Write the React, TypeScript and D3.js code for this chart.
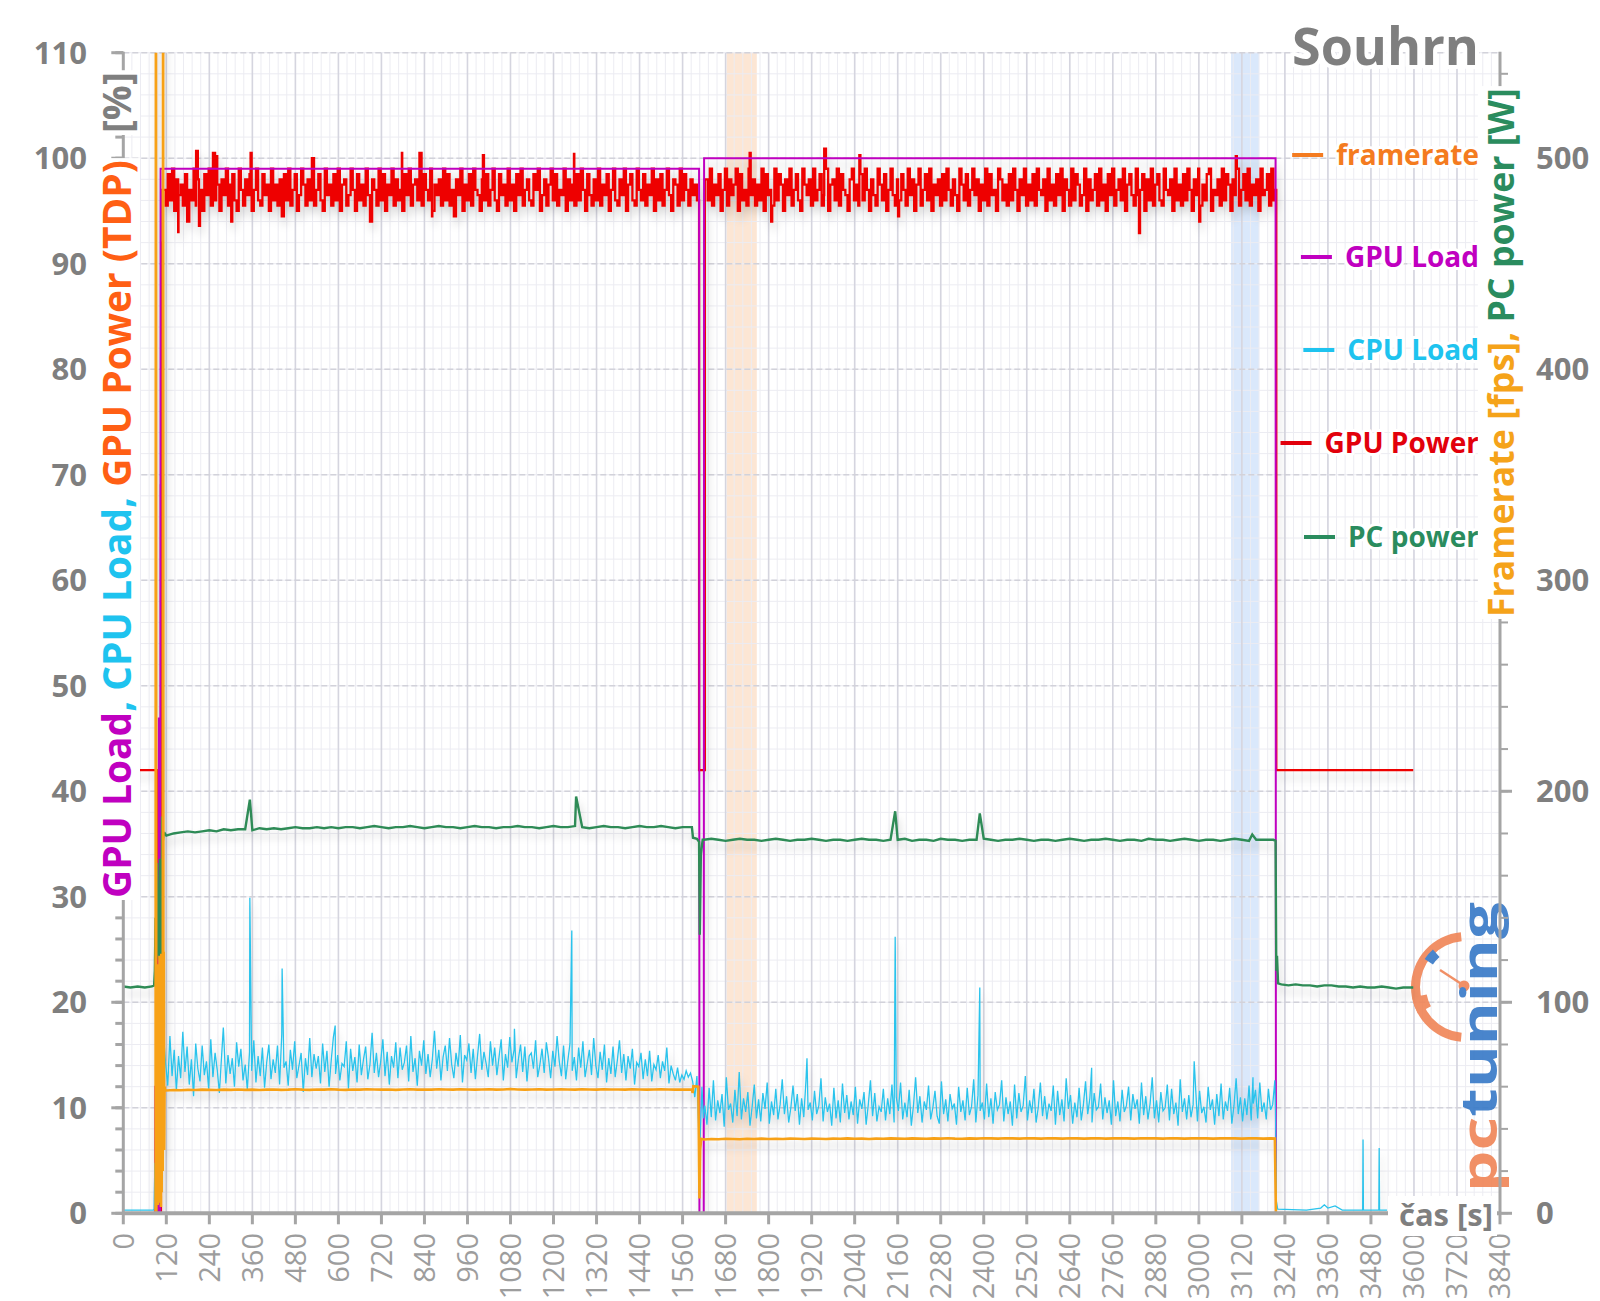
import React, { useEffect, useRef } from "react";
import * as d3 from "d3";

// axis ticks
const leftTicks = [0, 10, 20, 30, 40, 50, 60, 70, 80, 90, 100, 110];
const rightTicks = [0, 100, 200, 300, 400, 500];
const timeTicks = [0, 120, 240, 360, 480, 600, 720, 840, 960, 1080, 1200, 1320, 1440, 1560, 1680, 1800, 1920, 2040, 2160, 2280, 2400, 2520, 2640, 2760, 2880, 3000, 3120, 3240, 3360, 3480, 3600, 3720, 3840];

// highlighted time windows [s]
const bands = [
  { from: 1683, to: 1767, color: "#fbe2cc" },
  { from: 3090, to: 3168, color: "#d3e4fa" },
];

// GPU Load [%]
const gpuLoad = [[0, 0], [88, 0], [89, 12], [91, 12], [92, 0], [98, 0], [99, 47], [100, 0], [103, 0], [104, 99], [1606, 99], [1607, 0], [1619, 0], [1620, 100], [3214, 100], [3215, 0], [3527, 0]];

// GPU Power [% TDP]
const gpuPowerHead = [[0, 42], [94, 42], [95, 0], [100, 0], [101, 7], [103, 0], [105, 69], [107, 92], [109, 97]];
const gpuPowerSeg1 = [
  97, 95.5, 98.5, 96, 99, 95, 98, 96.5, 97.5, 95.5,
  98.5, 94, 97, 96, 99, 95.5, 98, 97, 95, 98.5,
  96.5, 99, 95.5, 100.5, 96, 97.5, 95, 98, 96.5, 99,
  95.5, 97.5, 98.5, 96, 95, 99, 97, 95.5, 98, 96.5,
  98.5, 95, 97, 99, 96, 95.5, 98.5, 96.5, 97.5, 95,
  99, 96, 97.5, 95.5, 98, 94.5, 98.5, 96, 99, 95.5,
  97, 98.5, 95, 96.5, 99, 97.5, 95.5, 98, 96, 100,
  95.5, 97, 98.5, 96, 95, 99, 96.5, 97.5, 95.5, 98.5,
  96, 99, 95, 97.5, 98, 95.5, 96.5, 99, 97, 95,
  98.5, 96, 97.5, 95.5, 99, 96.5, 94, 98, 97, 95.5,
  99, 96, 98.5, 95, 97.5, 96.5, 99, 95.5, 98, 96,
  97, 95, 98.5, 96.5, 99, 95.5, 97.5, 98, 96, 100.5,
  95.5, 98.5, 97, 96, 99, 95, 97.5, 96.5, 98, 95.5,
  99, 96, 98.5, 95.5, 97, 94.5, 98, 96.5, 99, 95,
  97.5, 96, 98.5, 95.5, 99, 97, 96.5, 95, 98, 96,
  98.5, 95.5, 97, 99, 96, 95, 98.5, 96.5, 97.5, 95.5,
  99, 96, 97.5, 95, 98.5, 96.5, 99, 95.5, 97, 98,
  96, 95.5, 98.5, 97, 99, 95, 96.5, 98, 95.5, 97.5,
  99, 96, 98.5, 95.5, 97, 96.5, 99, 95, 98, 96,
  97.5, 95.5, 98.5, 96, 99, 97, 95, 98.5, 96.5, 95.5,
  98, 96, 99, 95.5, 97.5, 96.5, 98.5, 95, 97, 99,
  96, 95.5, 98, 96.5, 99, 95, 97.5, 98.5, 96, 95.5,
  99, 97, 96, 98.5, 95.5, 97.5, 96.5, 99, 95, 98,
  96, 98.5, 95.5, 97, 99, 96.5, 95, 98, 97.5, 95.5,
  99, 96, 98.5, 97, 95.5, 98, 96.5, 97.5, 96,
];
const gpuPowerGap = [[1604, 96], [1606, 42], [1620, 42], [1622, 98]];
const gpuPowerSeg2 = [
  98, 96, 99, 95.5, 97.5, 96.5, 98.5, 95, 97, 99,
  95.5, 98, 96.5, 97.5, 99, 95, 98.5, 96, 97, 95.5,
  99, 96.5, 98, 95.5, 97.5, 96, 99, 95, 98.5, 96.5,
  97, 95.5, 99, 96, 98.5, 97.5, 95, 98, 96.5, 99,
  95.5, 97, 98.5, 96, 95, 99, 97.5, 96.5, 98, 95.5,
  99, 96, 97, 98.5, 95.5, 96.5, 99, 95, 97.5, 98,
  96, 99, 95.5, 98.5, 97, 96.5, 95, 98, 99, 96,
  97.5, 95.5, 98.5, 96, 99, 97, 95, 98, 96.5, 95.5,
  99, 97.5, 96, 98.5, 95, 97, 99, 96.5, 95.5, 98,
  96, 98.5, 97, 95.5, 99, 96.5, 98, 95, 97.5, 99,
  95.5, 97, 98.5, 96, 99, 95, 97.5, 96.5, 98, 95.5,
  98.5, 96, 99, 97, 95.5, 98, 96.5, 95, 99, 97.5,
  96, 98.5, 95.5, 97, 99, 96.5, 98, 95, 97.5, 96,
  99, 95.5, 98.5, 96.5, 97, 95, 99, 98, 96, 97.5,
  95.5, 98.5, 96, 99, 97, 95, 98, 96.5, 99, 95.5,
  97.5, 96, 98.5, 95.5, 99, 97, 96.5, 98, 95, 99,
  96, 97.5, 95.5, 98.5, 96.5, 99, 95, 98, 97, 95.5,
  99, 96, 98.5, 97.5, 95.5, 96.5, 99, 95, 98, 96,
  97, 98.5, 95.5, 99, 96, 97.5, 95, 98.5, 96.5, 99,
  95.5, 97, 98, 96, 99, 95, 97.5, 98.5, 96.5, 95.5,
  99, 96.5, 97, 98.5, 95, 98, 96, 99, 95.5, 97.5,
  98.5, 96, 95.5, 99, 97, 96.5, 98, 95, 99, 96,
  97.5, 95.5, 98.5, 96, 99, 97, 95, 98, 96.5, 99,
  95.5, 97.5, 96, 98.5, 99, 95, 97, 96.5, 98, 95.5,
  99, 96, 98.5, 97.5, 95, 98, 96.5, 99, 95.5, 97,
  98.5, 96, 99, 95.5, 97.5, 96.5, 98, 95, 99, 96.5,
  97, 98.5, 95.5, 99, 96,
];
const gpuPowerSpikes = [[153, 93], [203, 100.7], [211, 93.6], [259, 100.2], [301, 94], [355, 100.5], [777, 100.5], [861, 94.5], [1003, 100.3], [1257, 100.4], [1747, 100.5], [1807, 94], [1955, 100.9], [2053, 100.3], [2161, 94.5], [2833, 92.9], [3001, 94], [3103, 100.2]];
const gpuPowerTail = [[3212, 97], [3214, 97], [3216, 42], [3598, 42]];

// CPU Load [%]
const cpuLoadHead = [[0, 0.3], [84, 0.3], [86, 0.4], [88, 4.8], [89, 0.5], [92, 1], [94, 22.5], [95, 3], [98, 5], [102, 12], [106, 14.5], [110, 11.5], [114, 16]];
const cpuLoadSeg1 = [
  14.2, 12.1, 16.8, 13.0, 15.5, 11.6, 14.9, 12.8, 17.2, 13.4,
  15.8, 12.2, 14.6, 11.1, 16.1, 13.7, 12.5, 15.9, 13.1, 14.4,
  11.8, 16.5, 12.9, 15.2, 13.6, 11.4, 14.8, 16.9, 12.3, 15.0,
  13.2, 14.7, 12.0, 16.2, 13.9, 15.6, 12.6, 14.1, 11.7, 15.3,
  13.5, 16.4, 12.4, 14.9, 13.0, 15.7, 11.9, 14.3, 16.0, 12.7,
  14.6, 13.3, 15.9, 12.2, 17.0, 13.8, 14.4, 12.1, 15.5, 13.6,
  16.3, 12.8, 14.0, 15.2, 11.5, 14.7, 13.1, 16.6, 12.9, 15.1,
  13.7, 14.9, 12.3, 16.1, 13.4, 15.4, 12.0, 14.5, 16.7, 13.2,
  15.0, 12.6, 14.2, 13.9, 16.3, 11.8, 15.6, 13.5, 14.8, 12.4,
  16.0, 13.1, 14.6, 15.8, 12.7, 14.1, 17.1, 13.3, 15.2, 12.9,
  14.4, 16.5, 13.0, 15.3, 12.2, 14.9, 13.8, 16.2, 12.8, 15.7,
  13.6, 14.3, 15.9, 12.5, 16.8, 13.4, 14.7, 12.1, 15.4, 14.0,
  16.4, 13.2, 15.1, 12.9, 14.6, 17.3, 13.7, 15.5, 12.6, 14.8,
  15.9, 13.5, 16.6, 14.1, 12.8, 15.2, 13.9, 16.9, 12.4, 15.0,
  14.5, 16.1, 13.3, 15.6, 12.7, 14.9, 17.0, 13.6, 15.3, 14.2,
  12.9, 16.3, 14.0, 15.7, 13.1, 14.8, 16.5, 12.6, 15.1, 13.8,
  16.7, 14.3, 15.5, 12.8, 14.6, 16.0, 13.4, 15.8, 12.5, 14.9,
  15.2, 13.7, 16.4, 12.9, 14.1, 15.6, 13.3, 16.2, 14.7, 12.8,
  15.4, 13.9, 16.8, 14.4, 13.0, 15.9, 12.7, 14.5, 16.1, 13.5,
  14.8, 12.6, 15.7, 13.8, 16.3, 12.9, 14.2, 15.5, 13.1, 16.6,
  14.0, 12.8, 15.3, 13.6, 16.0, 12.4, 14.7, 13.2, 15.8, 12.9,
  14.5, 16.4, 13.3, 15.1, 12.6, 14.9, 13.7, 15.6, 12.2, 14.3,
  13.9, 15.2, 12.7, 14.6, 13.0, 15.4, 12.5, 14.1, 13.6, 15.0,
  12.8, 14.4, 13.5, 15.7, 12.3, 14.0, 13.2, 12.6, 13.8, 12.4,
  13.1, 12.7, 13.5, 12.9, 13.3,
];
const cpuLoadGap = [[1588, 12.5], [1594, 11], [1600, 13], [1604, 9], [1607, 5.5], [1610, 8], [1614, 12], [1618, 9]];
const cpuLoadSeg2 = [
  10.2, 8.4, 11.9, 9.1, 12.6, 8.8, 10.7, 9.5, 11.3, 8.2,
  12.9, 9.8, 10.4, 8.6, 11.7, 9.2, 13.4, 8.9, 10.9, 9.6,
  11.5, 8.3, 10.1, 12.2, 9.0, 10.8, 8.7, 11.4, 9.9, 12.4,
  8.5, 10.6, 9.3, 11.8, 8.9, 10.3, 12.7, 9.4, 11.1, 8.6,
  10.0, 12.1, 9.7, 11.3, 8.4, 10.9, 9.1, 12.5, 9.8, 10.5,
  8.8, 11.6, 9.4, 10.2, 12.8, 8.7, 11.0, 9.6, 10.4, 8.3,
  11.9, 9.0, 10.7, 8.6, 12.3, 9.5, 11.2, 8.9, 10.6, 9.3,
  12.0, 8.5, 10.8, 9.9, 11.5, 8.4, 10.3, 12.6, 9.2, 11.4,
  8.7, 10.1, 9.6, 11.8, 8.8, 10.9, 9.4, 12.2, 8.6, 11.0,
  9.7, 12.4, 8.9, 10.5, 9.1, 11.7, 8.3, 10.2, 12.9, 9.5,
  11.1, 8.6, 10.6, 9.8, 12.1, 8.9, 10.0, 11.6, 9.2, 8.5,
  12.5, 9.4, 10.8, 8.7, 11.3, 9.9, 10.4, 8.4, 12.0, 9.6,
  10.7, 8.8, 11.9, 9.3, 10.1, 12.7, 8.6, 11.2, 9.7, 10.5,
  8.9, 12.3, 9.1, 10.9, 8.5, 11.5, 9.8, 10.3, 12.6, 8.7,
  11.0, 9.4, 10.6, 8.3, 12.2, 9.0, 11.4, 9.6, 10.2, 13.0,
  8.8, 10.7, 9.5, 11.8, 8.6, 10.0, 12.4, 9.2, 11.1, 8.9,
  10.4, 9.7, 12.1, 8.4, 11.6, 9.3, 10.8, 8.7, 12.8, 9.9,
  11.2, 8.5, 10.5, 9.1, 11.9, 8.8, 10.3, 12.5, 9.4, 10.9,
  8.6, 11.4, 9.8, 10.1, 12.3, 8.9, 11.0, 9.5, 10.7, 8.4,
  12.6, 9.2, 10.6, 8.7, 11.7, 9.6, 10.2, 12.0, 8.8, 11.3,
  9.9, 10.8, 8.5, 12.4, 9.3, 11.1, 8.9, 10.4, 12.9, 9.0,
  10.7, 8.6, 11.5, 9.7, 10.0, 12.2, 8.8, 11.8, 9.4, 10.5,
  8.3, 12.7, 9.6, 10.9, 8.9, 11.2, 9.1, 10.3, 12.5, 8.7,
  11.6, 9.5, 10.1, 8.6, 12.0, 9.8, 10.8, 8.4, 11.3, 9.2,
  12.3, 8.9, 10.6, 9.7, 11.9, 8.5, 10.2, 12.8, 9.4, 11.0,
  8.7, 10.9, 9.3, 12.1, 8.8, 10.4, 11.7, 9.0, 12.4, 9.6,
  10.5, 8.9, 11.8, 9.8, 10.3, 12.6,
];
const cpuLoadSpikes = [[279, 17.6], [353, 29.9], [443, 23.2], [591, 17.8], [1091, 17.5], [1251, 26.8], [1907, 14.7], [2153, 26.2], [2389, 21.4], [2701, 13.8], [2987, 14.4], [3151, 12.9]];
const cpuLoadTail = [[3214, 9.5], [3216, 1.2], [3220, 0.4], [3300, 0.3], [3340, 0.5], [3350, 0.8], [3360, 0.5], [3380, 0.7], [3400, 0.3], [3457, 0.3], [3458, 7], [3459, 0.3], [3502, 0.3], [3503, 6.2], [3504, 0.3], [3525, 0.3]];

// PC power [W]
const pcPowerHead = [[0, 107.5], [20, 107], [40, 107.5], [60, 107], [80, 107.5], [86, 108], [88, 115], [90, 140], [92, 128], [94, 166], [96, 125], [98, 122], [100, 120], [102, 168], [104, 122], [106, 125], [108, 188], [110, 176], [112, 179], [116, 180]];
const pcPowerSeg1 = [
  179, 180, 180.5, 181, 180.5, 181, 181.5, 181, 182, 181.5,
  182, 182, 181.5, 182.5, 182, 182.5, 182, 182.5, 183, 182.5,
  182.5, 183, 182.5, 183, 182.5, 183, 183, 182.5, 183, 183.5,
  183, 182.5, 183, 183, 183.5, 183, 182.5, 183, 183.5, 183,
  183, 182.5, 183, 183.5, 183, 183, 182.5, 183, 183, 183.5,
  183, 183, 182.5, 183, 183.5, 183, 183, 183.5, 183, 182.5,
  183, 183.5, 183, 183, 182.5, 183, 183.5, 183, 183, 183.5,
  183, 182.5, 183, 183,
];
const pcPowerGap = [[1586, 183], [1589, 178], [1600, 177.5], [1606, 176], [1608, 132], [1611, 170], [1616, 177]];
const pcPowerSeg2 = [
  177, 177.5, 177, 176.5, 177, 177.5, 177, 177, 176.5, 177,
  177.5, 177, 176.5, 177, 177, 177.5, 177, 176.5, 177, 177,
  176.5, 177, 177.5, 177, 177, 176.5, 177, 177, 177.5, 176.5,
  177, 177, 176.5, 177.5, 177, 177, 176.5, 177, 177, 177.5,
  177, 176.5, 177, 177, 177.5, 177, 176.5, 177, 177, 176.5,
  177, 177.5, 177, 176.5, 177, 177, 177.5, 177, 176.5, 177,
  177, 176.5, 177.5, 177, 177, 176.5, 177, 177.5, 177, 176.5,
  177, 177, 176.5, 177, 177.5, 177, 176.5, 177, 177, 177,
];
const pcPowerSpikes = [[353, 196], [1263, 197.5], [2153, 190.5], [2389, 189.5], [3149, 179.5]];
const pcPowerTailStep = [[3208, 177], [3214, 176.5], [3216, 115], [3218, 122], [3221, 109]];
const pcPowerTail = [108.5, 108, 108.5, 108, 108, 107.5, 108, 108, 107.5, 107.5, 107, 107.5, 107, 107, 107.5, 107, 106.5, 107, 107];

// Framerate [fps]
const framerateHead = [[0, 0], [90, 0], [91, 700], [92, 0], [93, 15], [95, 118], [96, 4], [97, 10], [99, 118], [100, 5], [101, 122], [102, 8], [104, 120], [105, 3], [106, 123], [107, 10], [109, 121], [110, 20], [111, 700], [112, 60], [113, 124], [114, 30], [115, 60], [117, 58.3]];
const framerateSeg1 = [
  58.2, 58.4, 58.3, 58.5, 58.4, 58.6, 58.5, 58.4, 58.6, 58.5,
  58.7, 58.5, 58.6, 58.4, 58.6, 58.7, 58.5, 58.6, 58.8, 58.6,
  58.5, 58.7, 58.6, 58.8, 58.6, 58.5, 58.7, 58.6, 58.8, 58.7,
  58.6, 58.7, 58.5, 58.7, 58.8, 58.6, 58.7, 58.6, 58.8, 58.7,
  58.6, 58.8, 58.7, 58.6, 58.7, 58.8, 58.6, 58.7, 58.9, 58.7,
  58.6, 58.7, 58.8, 58.6, 58.7, 58.8, 58.7, 58.6, 58.8, 58.7,
  58.6, 58.8, 58.7, 58.7, 58.6, 58.8, 58.7, 58.6, 58.7, 58.8,
  58.7, 58.6, 58.7, 58.6,
];
const framerateGap = [[1586, 58.6], [1588, 57], [1590, 60.2], [1604, 60], [1607, 7], [1609, 30], [1612, 35.3]];
const framerateSeg2 = [
  35.0, 35.2, 35.1, 35.3, 35.2, 35.1, 35.3, 35.2, 35.4, 35.2,
  35.3, 35.2, 35.4, 35.3, 35.2, 35.4, 35.3, 35.2, 35.4, 35.3,
  35.5, 35.3, 35.4, 35.2, 35.4, 35.3, 35.5, 35.4, 35.3, 35.5,
  35.4, 35.3, 35.5, 35.4, 35.6, 35.4, 35.3, 35.5, 35.4, 35.6,
  35.5, 35.4, 35.6, 35.5, 35.4, 35.6, 35.5, 35.4, 35.6, 35.5,
  35.4, 35.6, 35.5, 35.4, 35.5, 35.6, 35.4, 35.5, 35.6, 35.5,
  35.4, 35.6, 35.5, 35.5, 35.4, 35.6, 35.5, 35.4, 35.5, 35.6,
  35.5, 35.4, 35.5, 35.6, 35.5, 35.4, 35.5, 35.5, 35.4, 35.5,
];
const framerateTail = [[3212, 35.4], [3215, 0], [3527, 0]];

// legend entries, top to bottom
const legendItems = [
  { name: "framerate", color: "#f47b20", baseline: 165 },
  { name: "GPU Load", color: "#c000c0", baseline: 267 },
  { name: "CPU Load", color: "#1ec3ef", baseline: 360 },
  { name: "GPU Power", color: "#e2000b", baseline: 453 },
  { name: "PC power", color: "#2a8c5e", baseline: 547 },
];

const sampled = (start: number, step: number, values: number[]) =>
  values.map((v, i) => [start + i * step, v]);
const merge = (...parts: number[][][]) =>
  parts.flat().slice().sort((a, b) => a[0] - b[0]);

const FONT = "'Open Sans', 'Noto Sans', sans-serif";
const GRAY = "#7f7f7f";

const App = () => {
  const ref = useRef<SVGSVGElement>(null);
  const width = 1600;
  const height = 1301;

  useEffect(() => {
    const svg = d3.select(ref.current);
    svg.selectAll("*").remove();

    const plot = { left: 123.3, right: 1500, top: 52.7, bottom: 1213.3 };

    const x = d3.scaleLinear().domain([0, 3840]).range([plot.left, plot.right]);
    const yL = d3.scaleLinear().domain([0, 110]).range([plot.bottom, plot.top]);
    const yR = d3.scaleLinear().domain([0, 550]).range([plot.bottom, plot.top]);

    const defs = svg.append("defs");
    defs.append("clipPath").attr("id", "plotclip")
      .append("rect")
      .attr("x", plot.left).attr("y", plot.top)
      .attr("width", plot.right - plot.left).attr("height", plot.bottom - plot.top);
    defs.append("filter").attr("id", "shadow")
      .attr("x", "-5%").attr("y", "-5%").attr("width", "110%").attr("height", "120%")
      .append("feDropShadow")
      .attr("dx", 2).attr("dy", 7).attr("stdDeviation", 4)
      .attr("flood-color", "#000").attr("flood-opacity", 0.18);

    svg.append("rect").attr("width", width).attr("height", height).attr("fill", "#fff");

    // shaded windows
    svg.append("g").selectAll("rect").data(bands).join("rect")
      .attr("x", (d) => x(d.from)).attr("width", (d) => x(d.to) - x(d.from))
      .attr("y", plot.top).attr("height", plot.bottom - plot.top)
      .attr("fill", (d) => d.color).attr("opacity", 0.85);

    // grid: minor then major
    const grid = svg.append("g");
    grid.selectAll("line.vmin").data(d3.range(0, 3841, 24)).join("line")
      .attr("x1", (d) => x(d)).attr("x2", (d) => x(d))
      .attr("y1", plot.top).attr("y2", plot.bottom)
      .attr("stroke", "#ececf2").attr("stroke-width", 1);
    grid.selectAll("line.hmin").data(d3.range(0, 111, 2)).join("line")
      .attr("x1", plot.left).attr("x2", plot.right)
      .attr("y1", (d) => yL(d)).attr("y2", (d) => yL(d))
      .attr("stroke", "#ececf2").attr("stroke-width", 1);
    grid.selectAll("line.vmaj").data(timeTicks).join("line")
      .attr("x1", (d) => x(d)).attr("x2", (d) => x(d))
      .attr("y1", plot.top).attr("y2", plot.bottom)
      .attr("stroke", "#d5d5df").attr("stroke-width", 1.6);
    grid.selectAll("line.hmaj").data(leftTicks).join("line")
      .attr("x1", plot.left).attr("x2", plot.right)
      .attr("y1", (d) => yL(d)).attr("y2", (d) => yL(d))
      .attr("stroke", "#d2d2da").attr("stroke-width", 1.6)
      .attr("stroke-dasharray", "6,3");

    // pctuning logo
    const logo = svg.append("g").attr("opacity", 0.92);
    const cx = 1466, cy = 987;
    const arc = d3.arc()({ innerRadius: 46, outerRadius: 55, startAngle: -Math.PI * 0.97, endAngle: -Math.PI * 0.03 } as any);
    logo.append("path").attr("d", arc).attr("transform", `translate(${cx},${cy})`)
      .attr("fill", "#f0875a");
    const thick = d3.arc()({ innerRadius: 40, outerRadius: 55, startAngle: -Math.PI * 0.66, endAngle: -Math.PI * 0.56 } as any);
    logo.append("path").attr("d", thick).attr("transform", `translate(${cx},${cy})`).attr("fill", "#f0875a");
    const blue = d3.arc()({ innerRadius: 40, outerRadius: 50, startAngle: -Math.PI * 0.31, endAngle: -Math.PI * 0.23 } as any);
    logo.append("path").attr("d", blue).attr("transform", `translate(${cx},${cy})`).attr("fill", "#3a7bc8");
    logo.append("line").attr("x1", cx - 3).attr("y1", cy - 2).attr("x2", cx - 26).attr("y2", cy - 17)
      .attr("stroke", "#f0875a").attr("stroke-width", 2.5);
    logo.append("circle").attr("cx", cx - 2).attr("cy", cy - 1).attr("r", 5.5).attr("fill", "#f0875a");
    const logoText = logo.append("text")
      .attr("transform", `translate(1497,1192) rotate(-90)`)
      .style("font-family", FONT).style("font-weight", 700).style("font-size", "50px");
    logoText.append("tspan").attr("fill", "#f0875a").text("pc");
    logoText.append("tspan").attr("fill", "#3a7bc8").text("tuning");
    logoText.attr("textLength", 290).attr("lengthAdjust", "spacingAndGlyphs");

    // data series
    const series = [
      { color: "#ee0000", w: 2.3, step: true, scale: yL, data: merge(gpuPowerHead, sampled(112, 6, gpuPowerSeg1), gpuPowerGap, sampled(1624, 6, gpuPowerSeg2), gpuPowerSpikes, gpuPowerTail) },
      { color: "#c000c0", w: 2, step: false, scale: yL, data: gpuLoad },
      { color: "#29c3ec", w: 1.3, step: false, scale: yL, data: merge(cpuLoadHead, sampled(118, 6, cpuLoadSeg1), cpuLoadGap, sampled(1622, 6, cpuLoadSeg2), cpuLoadSpikes, cpuLoadTail) },
      { color: "#2e8b57", w: 2.4, step: false, scale: yR, data: merge(pcPowerHead, sampled(120, 20, pcPowerSeg1), pcPowerGap, sampled(1620, 20, pcPowerSeg2), pcPowerSpikes, pcPowerTailStep, sampled(3230, 20, pcPowerTail), [[3598, 107]]) },
      { color: "#f7a118", w: 2.6, step: false, scale: yR, data: merge(framerateHead, sampled(120, 20, framerateSeg1), framerateGap, sampled(1620, 20, framerateSeg2), framerateTail) },
    ];

    const dataG = svg.append("g").attr("clip-path", "url(#plotclip)")
      .append("g").attr("filter", "url(#shadow)");
    series.forEach((s) => {
      const line = d3.line<number[]>().x((d) => x(d[0])).y((d) => s.scale(d[1]))
        .curve(s.step ? d3.curveStepAfter : d3.curveLinear);
      dataG.append("path").attr("d", line(s.data))
        .attr("fill", "none").attr("stroke", s.color)
        .attr("stroke-width", s.w).attr("stroke-linejoin", "miter");
    });

    // axes
    const axisColor = "#a5a5a5";
    const ax = svg.append("g").attr("stroke", axisColor);
    ax.append("line").attr("x1", plot.left).attr("x2", plot.left).attr("y1", plot.top - 1).attr("y2", plot.bottom).attr("stroke-width", 3);
    ax.append("line").attr("x1", plot.right).attr("x2", plot.right).attr("y1", plot.top - 1).attr("y2", plot.bottom).attr("stroke-width", 3);
    ax.append("line").attr("x1", plot.left - 1).attr("x2", plot.right + 1).attr("y1", plot.bottom).attr("y2", plot.bottom).attr("stroke-width", 4);
    ax.selectAll("line.lmin").data(d3.range(0, 111, 2)).join("line")
      .attr("x1", plot.left - 8).attr("x2", plot.left)
      .attr("y1", (d) => yL(d)).attr("y2", (d) => yL(d)).attr("stroke-width", 3);
    ax.selectAll("line.lmaj").data(leftTicks).join("line")
      .attr("x1", plot.left - 12).attr("x2", plot.left)
      .attr("y1", (d) => yL(d)).attr("y2", (d) => yL(d)).attr("stroke-width", 3);
    ax.selectAll("line.rmin").data(d3.range(0, 551, 20)).join("line")
      .attr("x1", plot.right).attr("x2", plot.right + 8)
      .attr("y1", (d) => yR(d)).attr("y2", (d) => yR(d)).attr("stroke-width", 2);
    ax.selectAll("line.rmaj").data(rightTicks).join("line")
      .attr("x1", plot.right).attr("x2", plot.right + 12)
      .attr("y1", (d) => yR(d)).attr("y2", (d) => yR(d)).attr("stroke-width", 3);
    ax.selectAll("line.xt").data(timeTicks).join("line")
      .attr("x1", (d) => x(d)).attr("x2", (d) => x(d))
      .attr("y1", plot.bottom).attr("y2", plot.bottom + 11).attr("stroke-width", 3);

    // tick labels
    svg.append("g").selectAll("text").data(leftTicks).join("text")
      .attr("x", 87).attr("y", (d) => yL(d)).attr("dy", "0.36em")
      .attr("text-anchor", "end").attr("fill", GRAY)
      .style("font-family", FONT).style("font-weight", 700).style("font-size", "31px")
      .text((d) => d);
    svg.append("g").selectAll("text").data(rightTicks).join("text")
      .attr("x", 1536).attr("y", (d) => yR(d)).attr("dy", "0.36em")
      .attr("fill", GRAY)
      .style("font-family", FONT).style("font-weight", 700).style("font-size", "31px")
      .text((d) => d);
    svg.append("g").selectAll("text").data(timeTicks).join("text")
      .attr("transform", (d) => `translate(${x(d)},1233) rotate(-90)`)
      .attr("dy", "0.36em").attr("text-anchor", "end").attr("fill", "#9d9d9d")
      .style("font-family", FONT).style("font-weight", 400).style("font-size", "29px")
      .text((d) => d);

    // x axis title with white backing
    svg.append("rect").attr("x", 1388).attr("y", 1196).attr("width", 109).attr("height", 40).attr("fill", "#fff");
    svg.append("text").attr("x", 1493).attr("y", 1226).attr("text-anchor", "end")
      .attr("fill", GRAY).style("font-family", FONT).style("font-weight", 700).style("font-size", "31px")
      .text("čas [s]");

    // title
    svg.append("text").attr("x", 1479).attr("y", 65).attr("text-anchor", "end")
      .attr("fill", GRAY).attr("stroke", "#fff").attr("stroke-width", 8)
      .attr("paint-order", "stroke").attr("stroke-linejoin", "round")
      .style("font-family", FONT).style("font-weight", 700).style("font-size", "52px")
      .text("Souhrn");

    // legend
    const leg = svg.append("g").style("font-family", FONT).style("font-weight", 700).style("font-size", "28px");
    legendItems.forEach((it) => {
      const t = leg.append("text").attr("x", 1479).attr("y", it.baseline)
        .attr("text-anchor", "end").attr("fill", it.color)
        .attr("stroke", "#fff").attr("stroke-width", 6).attr("paint-order", "stroke")
        .attr("stroke-linejoin", "round").text(it.name);
      const len = (t.node() as SVGTextElement).getComputedTextLength();
      const start = 1479 - len;
      leg.append("line").attr("x1", start - 44).attr("x2", start - 13)
        .attr("y1", it.baseline - 10).attr("y2", it.baseline - 10)
        .attr("stroke", it.color).attr("stroke-width", 4);
    });

    // rotated axis titles on a white box, fitted to their span
    const axisTitle = (cxp: number, yStart: number, target: number | null, size: number, parts: { t: string; c: string }[]) => {
      const g = svg.append("g").attr("transform", `translate(${cxp},${yStart}) rotate(-90)`);
      const bg = g.append("rect").attr("fill", "#fff");
      const t = g.append("text").attr("dy", "0.36em")
        .style("font-family", FONT).style("font-weight", 700).style("font-size", `${size}px`);
      parts.forEach((p) => t.append("tspan").attr("fill", p.c).text(p.t));
      let fs = size;
      if (target) {
        const len = (t.node() as SVGTextElement).getComputedTextLength();
        fs = (size * target) / len;
        t.style("font-size", `${fs}px`);
      }
      const b = (t.node() as SVGTextElement).getBBox();
      bg.attr("x", b.x - 2).attr("y", b.y + 2).attr("width", b.width + 4).attr("height", b.height - 4);
      return fs;
    };
    const fsLeft = axisTitle(117, 898, 738, 34, [
      { t: "GPU Load", c: "#c000c0" },
      { t: ", ", c: "#1ec3ef" },
      { t: "CPU Load", c: "#1ec3ef" },
      { t: ", ", c: "#1ec3ef" },
      { t: "GPU Power (TDP)", c: "#ff5f14" },
    ]);
    axisTitle(117, 133, null, fsLeft, [{ t: "[%]", c: GRAY }]);
    axisTitle(1501, 617, 529, 34, [
      { t: "Framerate [fps]", c: "#f5a31a" },
      { t: ", ", c: "#f5a31a" },
      { t: "PC power [W]", c: "#2a8c5e" },
    ]);
  }, []);

  return (
    <svg ref={ref} width={width} height={height}
      style={{ position: "absolute", left: 0, top: 0, display: "block" }} />
  );
};

export default App;
